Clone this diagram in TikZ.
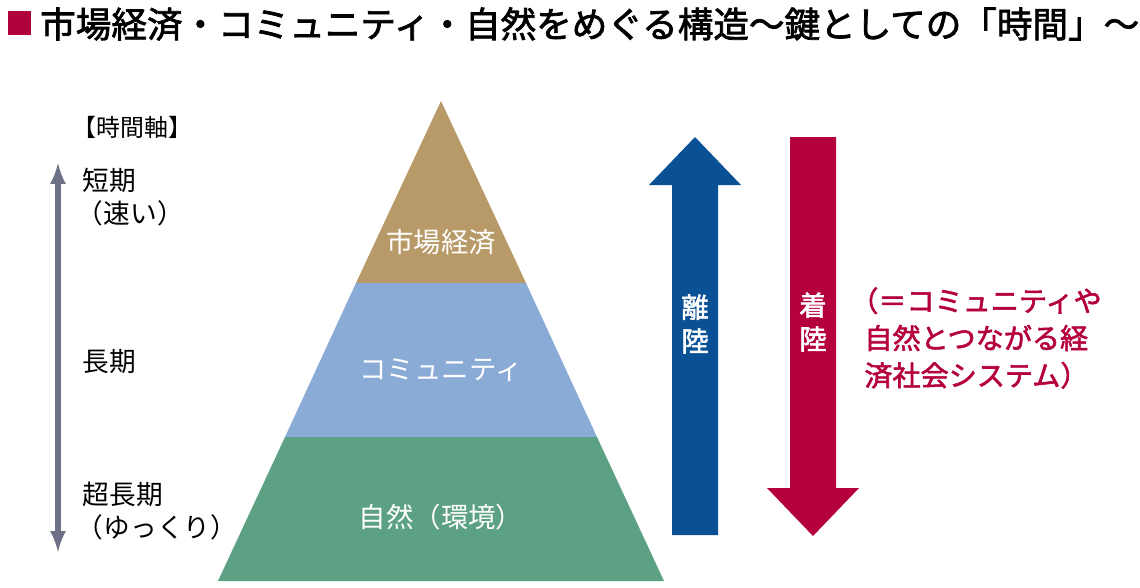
\documentclass[tikz,border=0pt]{standalone}
\usepackage{fontspec}
\setmainfont{Noto Sans CJK JP}
\newfontfamily\jpbold{Noto Sans CJK JP}[FakeBold=2]
\usetikzlibrary{positioning}
\definecolor{titlered}{HTML}{B0003A}
\definecolor{axisgray}{HTML}{6E7086}
\definecolor{tanband}{HTML}{B89A68}
\definecolor{blueband}{HTML}{8AABD6}
\definecolor{greenband}{HTML}{5CA184}
\definecolor{upblue}{HTML}{0A5095}
\definecolor{downred}{HTML}{B5003F}
\begin{document}
\begin{tikzpicture}[x=0.025cm,y=-0.025cm,
    lab/.style={font=\fontsize{19}{22}\selectfont,anchor=west},
    band label/.style={font=\fontsize{19.5}{22}\selectfont,text=white},
    arrow label/.style={font=\jpbold\fontsize{19.5}{24}\selectfont,text=white,align=center,inner sep=0pt}]
    \useasboundingbox (0,0) rectangle (1140,587);
    % title
    \fill[titlered] (8,11) rectangle (31,35);
    \node[anchor=west,font=\jpbold\fontsize{25.3}{28}\selectfont,inner sep=0pt] (title) at (40,24) {市場経済・コミュニティ・自然をめぐる構造～鍵としての「時間」～};
    % time axis
    \node[lab,font=\fontsize{17}{20}\selectfont] (axis) at (68,127) {【時間軸】};
    \coordinate (top) at (58,163);
    \coordinate (bottom) at (58,552);
    \draw[axisgray,line width=4pt,-latex] (58,300) -- (top);
    \draw[axisgray,line width=4pt,-latex] (58,300) -- (bottom);
    \node[lab] (short) at (78,180) {短期};
    \node[lab] (fast) at (72,213) {（速い）};
    \node[lab] (long) at (78,362) {長期};
    \node[lab] (vlong) at (78,494) {超長期};
    \node[lab] (slow) at (72,527) {（ゆっくり）};
    % pyramid
    \fill[tanband] (441,101) -- (526,283) -- (356,283) -- cycle;
    \fill[blueband] (356,283) -- (526,283) -- (597,437) -- (285,437) -- cycle;
    \fill[greenband] (285,437) -- (597,437) -- (664,581) -- (218,581) -- cycle;
    \node[band label] (market) at (441,242) {市場経済};
    \node[band label] (community) at (441,370) {コミュニティ};
    \node[band label] (nature) at (441,517) {自然（環境）};
    % arrows
    \fill[upblue] (672,535) -- (718,535) -- (718,185) -- (741,185) -- (695,137) -- (649,185) -- (672,185) -- cycle;
    \fill[downred] (790,137) -- (836,137) -- (836,488) -- (859,488) -- (813,536) -- (767,488) -- (790,488) -- cycle;
    \node[arrow label] (takeoff) at (695,324) {離\\陸};
    \node[arrow label] (landing) at (813,322) {着\\陸};
    \node[anchor=west,align=left,text=downred,font=\jpbold\fontsize{20}{26.5}\selectfont,inner sep=0pt] (note) at (850,338) {（＝コミュニティや\\\hspace*{0.5em}自然とつながる経\\\hspace*{0.5em}済社会システム）};
\end{tikzpicture}
\end{document}
